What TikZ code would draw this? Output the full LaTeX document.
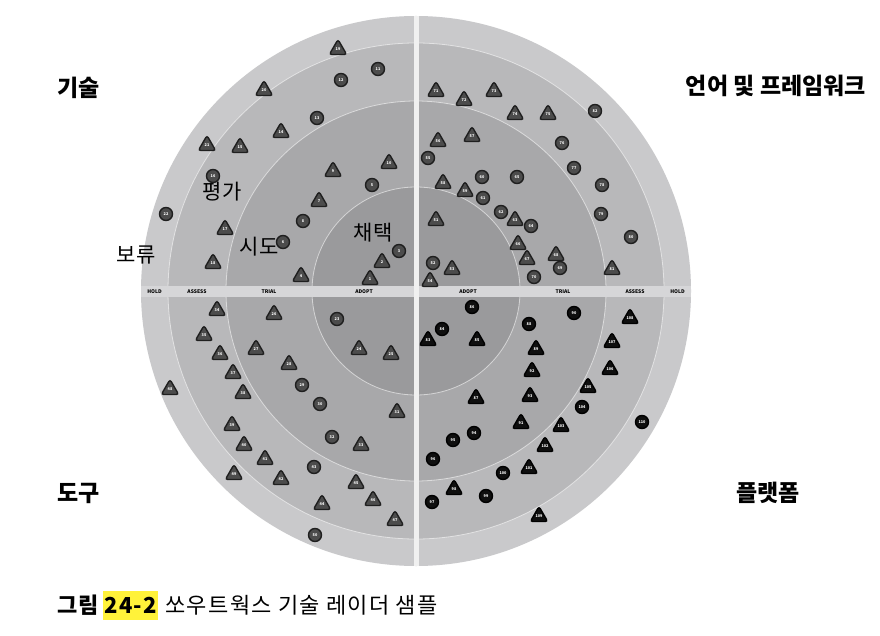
\documentclass[tikz,border=0pt]{standalone}
\usepackage{fontspec}
\setmainfont{Noto Sans CJK KR}
\newfontfamily\capfont[LetterSpace=6]{Noto Sans CJK KR}
\usetikzlibrary{shapes.geometric}
\usetikzlibrary{positioning}

\definecolor{holdring}{HTML}{C9C9CB}
\definecolor{assessring}{HTML}{B8B8BA}
\definecolor{trialring}{HTML}{A8A8AA}
\definecolor{adoptring}{HTML}{9A9A9C}
\definecolor{bandgray}{HTML}{D6D6D8}
\definecolor{marker}{HTML}{FFF23A}

\begin{document}
\begin{tikzpicture}[x=1pt,y=-1pt]

\tikzset{
    blip/.style={draw=black!88, fill=black!70, line width=1.4pt, inner sep=0pt,
      text=white, font=\fontsize{3.8}{3.8}\selectfont\bfseries},
    blipc/.style={blip, circle, minimum size=13pt},
    blipt/.style={blip, regular polygon, regular polygon sides=3, rounded corners=2.5pt,
      minimum size=20pt, yshift=-2.5pt},
    darkblip/.style={draw=black, fill=black!94},
    ringlabel/.style={font=\fontsize{21}{21}\selectfont, inner sep=0pt},
    quadlabel/.style={font=\fontsize{23}{23}\selectfont\bfseries, inner sep=0pt},
    bandlabel/.style={font=\fontsize{5}{5}\selectfont\bfseries, inner sep=0pt},
    ringline/.style={draw=white, draw opacity=0.55, line width=0.8pt},
    captext/.style={inner sep=0pt, font=\fontsize{22}{22}\capfont}
}

\pgfmathsetmacro{\Rh}{275}
\pgfmathsetmacro{\Ra}{248}
\pgfmathsetmacro{\Rt}{190}
\pgfmathsetmacro{\Rd}{104}

\useasboundingbox (0,0) rectangle (880,636);
\fill[white] (0,0) rectangle (880,636);

%%%%%%%%%%%%%%%%%%%%%%%%%%%%%%%%%%%%%%%%%%%%%%%%%%%%%%%%%
%                       Radar rings                     %
%%%%%%%%%%%%%%%%%%%%%%%%%%%%%%%%%%%%%%%%%%%%%%%%%%%%%%%%%

\coordinate (O) at (416,291);

\fill[holdring] (O) circle (\Rh pt);
\fill[assessring] (O) circle (\Ra pt);
\fill[trialring] (O) circle (\Rt pt);
\fill[adoptring] (O) circle (\Rd pt);
\draw[ringline] (O) circle (\Ra pt);
\draw[ringline] (O) circle (\Rt pt);
\draw[ringline] (O) circle (\Rd pt);

% Quadrant dividers
\begin{scope}
  \clip (O) circle (\Rh pt);
  \fill[bandgray] (416-\Rh,286) rectangle (416+\Rh,297);
  \fill[white!94!black] (413.5,291-\Rh) rectangle (418.5,291+\Rh);
\end{scope}

% Ring names on the band
\foreach \lbl/\m in {HOLD/261.5, ASSESS/219, TRIAL/147, ADOPT/52} {
  \node[bandlabel] (l\lbl) at (416-\m,291.5) {\lbl};
  \node[bandlabel] (r\lbl) at (416+\m,291.5) {\lbl};
}

%%% Top left: techniques %%%

\foreach \n/\x/\y in {1/370/277, 2/382/260, 4/301/274, 7/319/199, 9/333/169, 10/389/161,
    14/281/130, 15/240/145, 17/225/227, 18/213/261, 19/338/47, 20/264/88, 21/207/143}
  \node[blipt] (b\n) at (\x,\y) {\n};
\foreach \n/\x/\y in {3/399/251, 5/372/185, 6/283/242, 8/303/221, 11/378/69, 12/341/80,
    13/317/118, 16/213/176, 22/166/214}
  \node[blipc] (b\n) at (\x,\y) {\n};

%%% Bottom left: tools %%%

\foreach \n/\x/\y in {24/359/347, 25/391/352, 26/274/312, 27/256/347, 28/289/362, 31/397/410,
    33/361/443, 34/217/308, 35/204/333, 36/220/352, 37/233/371, 38/243/391, 39/232/423,
    40/244/443, 41/265/457, 42/281/477, 44/322/502, 45/356/481, 46/373/498, 47/395/518,
    48/170/387, 49/234/472}
  \node[blipt] (b\n) at (\x,\y) {\n};
\foreach \n/\x/\y in {23/337/319, 29/302/385, 30/320/404, 32/332/437, 43/314/467, 50/315/535}
  \node[blipc] (b\n) at (\x,\y) {\n};

%%% Top right: languages and frameworks %%%

\foreach \n/\x/\y in {51/436/218, 53/452/267, 54/430/279, 56/438/139, 57/472/134, 58/443/181,
    59/465/189, 63/515/218, 66/518/242, 67/527/257, 68/556/253, 71/436/89, 72/464/98,
    73/494/89, 74/515/112, 75/548/112, 81/612/267}
  \node[blipt] (b\n) at (\x,\y) {\n};
\foreach \n/\x/\y in {52/433/263, 55/428/158, 60/482/177, 61/483/198, 62/501/212, 64/531/226,
    65/517/177, 69/560/268, 70/534/277, 76/562/143, 77/574/168, 78/602/185, 79/601/214,
    80/631/237, 82/595/111}
  \node[blipc] (b\n) at (\x,\y) {\n};

%%% Bottom right: platforms %%%

\foreach \n/\x/\y in {83/428/338, 85/477/338, 87/476/396, 89/536/347, 91/521/421, 92/532/369,
    93/530/394, 98/454/487, 101/529/466, 102/545/444, 103/561/424, 105/588/385, 106/610/367,
    107/612/340, 108/630/316, 109/539/514}
  \node[blipt, darkblip] (b\n) at (\x,\y) {\n};
\foreach \n/\x/\y in {84/442/329, 86/472/307, 88/529/324, 90/574/313, 94/474/433, 95/453/440,
    96/433/459, 97/432/502, 99/486/496, 100/503/473, 104/582/407, 110/642/422}
  \node[blipc, darkblip] (b\n) at (\x,\y) {\n};

%%%%%%%%%%%%%%%%%%%%%%%%%%%%%%%%%%%%%%%%%%%%%%%%%%%%%%%%%
%                         Labels                        %
%%%%%%%%%%%%%%%%%%%%%%%%%%%%%%%%%%%%%%%%%%%%%%%%%%%%%%%%%

% Ring names
\node[ringlabel] (hold) at (136,255) {보류};
\node[ringlabel] (assess) at (222,192) {평가};
\node[ringlabel] (trial) at (259,247) {시도};
\node[ringlabel] (adopt) at (373,233) {채택};

% Quadrant names
\node[quadlabel, anchor=west] (tech) at (57,88) {기술};
\node[quadlabel, anchor=east] (lang) at (866,86) {언어 및 프레임워크};
\node[quadlabel, anchor=west] (tools) at (57,493) {도구};
\node[quadlabel] (plat) at (768,493) {플랫폼};

% Caption
\node[captext, anchor=west, font=\fontsize{22}{22}\capfont\bfseries] (capA) at (57,605) {그림};
\node[captext, right=4pt of capA, fill=marker, inner xsep=1pt, minimum height=29pt,
  font=\fontsize{22}{22}\capfont\bfseries] (capB) {24-2};
\node[captext, right=7pt of capB] (capC) {쏘우트웍스 기술 레이더 샘플};

\end{tikzpicture}
\end{document}
